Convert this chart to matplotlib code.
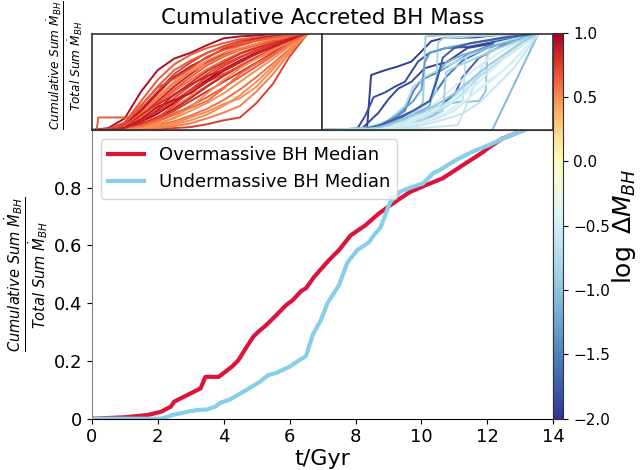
import matplotlib

matplotlib.use("Agg")
import matplotlib.pyplot as plt
import numpy as np
from matplotlib.colors import ListedColormap, Normalize, TwoSlopeNorm

# median curves (bottom panel)
over_med_t = [0, 1.0, 1.7, 2.1, 2.4, 2.5, 2.9, 3.3, 3.45, 3.85,
              4.25, 4.45, 4.7, 4.9, 5.05, 5.3, 5.6, 5.9, 6.1, 6.35,
              6.5, 6.75, 7.2, 7.5, 7.85, 8.3, 8.7, 9.25, 9.65, 10.05,
              10.65, 11.25, 11.85, 12.05, 12.45, 13.1]
over_med_v = [0, 0.005, 0.013, 0.024, 0.042, 0.059, 0.082, 0.105, 0.145, 0.145,
              0.18, 0.203, 0.249, 0.284, 0.301, 0.325, 0.359, 0.394, 0.411, 0.442,
              0.452, 0.492, 0.55, 0.584, 0.635, 0.67, 0.71, 0.755, 0.785, 0.805,
              0.833, 0.878, 0.922, 0.94, 0.97, 1.0]
under_med_t = [0, 2.1, 2.45, 2.9, 3.2, 3.5, 3.75, 3.9, 4.2, 4.7,
               5.1, 5.35, 5.6, 6.0, 6.3, 6.5, 6.7, 6.95, 7.15, 7.5,
               7.75, 8.05, 8.4, 8.6, 8.75, 9.05, 9.35, 9.65, 10.05, 10.35,
               10.55, 11.05, 11.55, 12.05, 12.6, 13.1]
under_med_v = [0, 0, 0.013, 0.024, 0.03, 0.032, 0.042, 0.055, 0.067, 0.1,
               0.128, 0.151, 0.159, 0.18, 0.203, 0.217, 0.29, 0.342, 0.40, 0.463,
               0.54, 0.584, 0.61, 0.642, 0.66, 0.75, 0.786, 0.80, 0.815, 0.85,
               0.861, 0.896, 0.925, 0.948, 0.977, 1.0]

# individual overmassive tracks (top left), sampled on over_t
over_t = [0, 1, 2, 3, 4, 5, 6, 7, 8, 9, 10, 11, 12, 13.1]
over_tracks = [
    [0, 0.02, 0.12, 0.40, 0.62, 0.74, 0.80, 0.88, 0.95, 0.97, 0.98, 0.99, 0.99, 1],
    [0, 0.01, 0.08, 0.30, 0.52, 0.68, 0.78, 0.85, 0.90, 0.94, 0.96, 0.98, 0.99, 1],
    [0, 0.01, 0.06, 0.22, 0.40, 0.58, 0.70, 0.80, 0.87, 0.92, 0.95, 0.97, 0.99, 1],
    [0, 0.00, 0.05, 0.18, 0.35, 0.50, 0.62, 0.72, 0.80, 0.87, 0.92, 0.95, 0.98, 1],
    [0, 0.00, 0.04, 0.15, 0.30, 0.45, 0.58, 0.70, 0.78, 0.84, 0.89, 0.93, 0.97, 1],
    [0, 0.00, 0.03, 0.12, 0.25, 0.40, 0.52, 0.63, 0.72, 0.80, 0.86, 0.91, 0.96, 1],
    [0, 0.00, 0.03, 0.10, 0.20, 0.33, 0.46, 0.58, 0.68, 0.76, 0.83, 0.89, 0.95, 1],
    [0, 0.00, 0.02, 0.08, 0.17, 0.28, 0.40, 0.52, 0.63, 0.72, 0.80, 0.87, 0.94, 1],
    [0, 0.00, 0.02, 0.07, 0.14, 0.24, 0.35, 0.46, 0.57, 0.67, 0.76, 0.85, 0.93, 1],
    [0, 0.00, 0.01, 0.05, 0.11, 0.20, 0.30, 0.40, 0.50, 0.60, 0.70, 0.80, 0.90, 1],
    [0, 0.00, 0.01, 0.04, 0.09, 0.16, 0.25, 0.34, 0.44, 0.55, 0.66, 0.77, 0.89, 1],
    [0, 0.00, 0.01, 0.03, 0.07, 0.12, 0.20, 0.28, 0.38, 0.50, 0.62, 0.74, 0.87, 1],
    [0, 0.00, 0.00, 0.02, 0.05, 0.09, 0.15, 0.22, 0.31, 0.42, 0.55, 0.69, 0.84, 1],
    [0, 0.00, 0.00, 0.01, 0.03, 0.06, 0.10, 0.16, 0.25, 0.36, 0.50, 0.66, 0.82, 1],
    [0, 0.00, 0.00, 0.00, 0.01, 0.02, 0.03, 0.06, 0.10, 0.13, 0.28, 0.48, 0.76, 1],
    [0, 0.00, 0.00, 0.01, 0.02, 0.04, 0.07, 0.12, 0.18, 0.25, 0.40, 0.58, 0.80, 1],
    [0, 0.01, 0.05, 0.20, 0.38, 0.55, 0.66, 0.75, 0.84, 0.90, 0.94, 0.97, 0.99, 1],
    [0, 0.00, 0.03, 0.14, 0.28, 0.42, 0.55, 0.67, 0.76, 0.83, 0.88, 0.92, 0.96, 1],
    [0, 0.00, 0.02, 0.09, 0.19, 0.30, 0.42, 0.55, 0.66, 0.75, 0.82, 0.88, 0.94, 1],
    [0, 0.00, 0.01, 0.06, 0.13, 0.22, 0.33, 0.45, 0.56, 0.66, 0.75, 0.83, 0.92, 1],
    [0, 0.00, 0.04, 0.17, 0.33, 0.48, 0.60, 0.69, 0.77, 0.84, 0.89, 0.94, 0.97, 1],
    [0, 0.00, 0.01, 0.05, 0.12, 0.26, 0.40, 0.50, 0.58, 0.66, 0.74, 0.82, 0.91, 1],
    [0, 0.00, 0.00, 0.02, 0.06, 0.13, 0.24, 0.38, 0.52, 0.64, 0.74, 0.83, 0.92, 1],
    [0, 0.00, 0.03, 0.16, 0.27, 0.36, 0.49, 0.61, 0.70, 0.79, 0.85, 0.90, 0.95, 1],
    [0, 0.00, 0.02, 0.11, 0.24, 0.31, 0.38, 0.50, 0.61, 0.70, 0.79, 0.86, 0.93, 1],
    [0, 0.00, 0.01, 0.04, 0.10, 0.18, 0.23, 0.30, 0.43, 0.58, 0.69, 0.78, 0.90, 1],
    [0, 0.00, 0.00, 0.02, 0.04, 0.07, 0.13, 0.19, 0.27, 0.33, 0.45, 0.63, 0.83, 1],
    [0, 0.01, 0.07, 0.26, 0.44, 0.53, 0.64, 0.76, 0.83, 0.88, 0.93, 0.96, 0.98, 1],
    [0, 0.00, 0.02, 0.08, 0.21, 0.37, 0.47, 0.56, 0.62, 0.71, 0.79, 0.87, 0.94, 1],
]
over_logdm = [0.95, 0.65, 0.75, 0.5, 0.85, 0.6, 0.7, 1.0, 0.55, 0.8, 0.65, 0.5,
              0.6, 0.5, 0.75, 0.55, 0.9, 0.65, 0.75, 0.85, 0.55, 0.7, 0.5,
              0.8, 0.9, 0.6, 0.5, 0.7, 0.85]
# one early-step track
step_t = [0, 0.3, 0.4, 2.3, 3, 4, 5, 6, 7, 8, 9, 10, 11, 12, 13.1]
step_v = [0, 0, 0.13, 0.13, 0.25, 0.45, 0.62, 0.72, 0.80, 0.86, 0.90, 0.93, 0.96, 0.98, 1]
step_logdm = 0.65

# individual undermassive tracks (top right)
under_tracks = [
    ([0, 2.7, 2.95, 3.8, 4.6, 5.4, 5.8, 6.6, 7.4, 9.3, 10.9, 13.1],
     [0, 0.01, 0.57, 0.62, 0.66, 0.71, 0.78, 0.92, 0.955, 0.96, 0.99, 1]),
    ([0, 2.1, 2.6, 3.1, 3.8, 4.4, 5.0, 5.8, 6.5, 7.5, 8.8, 10, 11.5, 13.1],
     [0, 0.01, 0.15, 0.34, 0.39, 0.45, 0.50, 0.71, 0.80, 0.85, 0.86, 0.9, 0.95, 1]),
    ([0, 2.3, 3.4, 4.0, 4.6, 5.4, 6.2, 6.8, 7.5, 8.8, 10.5, 13.1],
     [0, 0.0, 0.18, 0.32, 0.43, 0.50, 0.64, 0.67, 0.70, 0.85, 0.9, 1]),
    ([0, 3, 5, 6.0, 6.8, 7.4, 8.0, 8.5, 9.5, 11, 13.1],
     [0, 0.02, 0.06, 0.1, 0.15, 0.29, 0.36, 0.55, 0.75, 0.88, 1]),
    ([0, 2.5, 4, 5, 5.5, 6, 7, 8, 9, 10.5, 13.1],
     [0, 0.01, 0.08, 0.2, 0.4, 0.52, 0.6, 0.7, 0.8, 0.9, 1]),
    ([0, 3, 4.5, 5.5, 6.5, 7.5, 8.5, 10, 11.5, 13.1],
     [0, 0.02, 0.1, 0.2, 0.3, 0.55, 0.72, 0.85, 0.93, 1]),
    ([0, 3, 4.5, 5.8, 6.1, 6.25, 8, 13.1],
     [0, 0.02, 0.08, 0.2, 0.3, 0.97, 0.99, 1]),
    ([0, 3.5, 5, 6.5, 6.9, 7.0, 7.3, 9, 13.1],
     [0, 0.02, 0.1, 0.3, 0.4, 0.9, 0.95, 0.97, 1]),
    ([0, 4, 6, 7, 8.5, 8.7, 9, 11, 13.1],
     [0, 0.03, 0.15, 0.25, 0.3, 0.75, 0.8, 0.9, 1]),
    ([0, 4, 6, 7, 7.5, 9.5, 9.9, 10, 10.5, 13.1],
     [0, 0.02, 0.1, 0.2, 0.28, 0.3, 0.4, 0.8, 0.88, 1]),
    ([0, 10.3, 13.1],
     [0, 0.0, 1]),
    ([0, 6, 8.2, 8.6, 9.5, 10.5, 13.1],
     [0, 0.02, 0.05, 0.2, 0.6, 0.9, 1]),
    ([0, 3, 5, 6, 7, 8, 9, 10, 11, 12, 13.1],
     [0, 0.01, 0.08, 0.15, 0.3, 0.45, 0.6, 0.72, 0.83, 0.92, 1]),
    ([0, 3.5, 5, 6, 7, 8, 9, 10, 11, 12, 13.1],
     [0, 0.01, 0.05, 0.1, 0.2, 0.35, 0.5, 0.62, 0.75, 0.88, 1]),
    ([0, 2.5, 4, 5, 5.5, 6.2, 7, 8, 9, 10, 11.5, 13.1],
     [0, 0.01, 0.1, 0.25, 0.45, 0.55, 0.62, 0.7, 0.78, 0.85, 0.93, 1]),
    ([0, 3, 4.5, 5.5, 6.5, 7, 7.5, 8.5, 10, 11.5, 13.1],
     [0, 0.02, 0.1, 0.15, 0.25, 0.6, 0.7, 0.78, 0.85, 0.92, 1]),
    ([0, 4, 5.5, 7, 8, 9.5, 10.5, 11.5, 12.3, 13.1],
     [0, 0.01, 0.05, 0.12, 0.2, 0.42, 0.55, 0.7, 0.85, 1]),
    ([0, 2.5, 3.5, 4.5, 5.5, 6, 6.2, 6.5, 7.5, 9, 11, 13.1],
     [0, 0.01, 0.05, 0.15, 0.3, 0.42, 0.7, 0.8, 0.85, 0.9, 0.95, 1]),
    ([0, 3, 5, 6.5, 7.3, 7.5, 8, 9, 10, 11.5, 13.1],
     [0, 0.0, 0.05, 0.12, 0.2, 0.6, 0.65, 0.72, 0.8, 0.9, 1]),
    ([0, 2.5, 3.5, 4.5, 5.5, 6.5, 7, 7.3, 8, 9, 11, 13.1],
     [0, 0.01, 0.05, 0.12, 0.2, 0.3, 0.55, 0.75, 0.85, 0.9, 0.96, 1]),
    ([0, 4, 6, 7.5, 9, 10, 11, 12, 13.1],
     [0, 0.02, 0.08, 0.18, 0.35, 0.5, 0.62, 0.8, 1]),
    ([0, 3, 4.5, 5.5, 6.5, 7.5, 8.5, 9.5, 10.5, 11.5, 13.1],
     [0, 0.01, 0.04, 0.09, 0.16, 0.24, 0.38, 0.55, 0.68, 0.8, 1]),
    ([0, 3.5, 5, 6, 7, 8, 9, 10, 11, 12, 13.1],
     [0, 0.01, 0.06, 0.13, 0.22, 0.3, 0.42, 0.58, 0.74, 0.87, 1]),
    ([0, 2.8, 4, 5, 6, 7, 8, 9, 10, 11, 12, 13.1],
     [0, 0.01, 0.05, 0.12, 0.18, 0.27, 0.38, 0.52, 0.66, 0.78, 0.9, 1]),
    ([0, 4.5, 6, 7.2, 8.5, 9.5, 10.5, 11.5, 12.5, 13.1],
     [0, 0.01, 0.05, 0.1, 0.17, 0.28, 0.45, 0.62, 0.85, 1]),
]
under_logdm = [-1.95, -1.85, -1.9, -1.7, -1.5, -1.6, -0.9, -0.8, -0.7, -1.0, -1.1,
               -0.6, -0.5, -0.65, -0.75, -1.2, -0.55, -1.3, -0.85, -1.75, -0.45,
               -0.7, -0.5, -0.95, -0.6]

legend_labels = ["Overmassive BH Median", "Undermassive BH Median"]
xticks = [0, 2, 4, 6, 8, 10, 12, 14]
yticks = [0, 0.2, 0.4, 0.6, 0.8]
ytick_labels = ["0", "0.2", "0.4", "0.6", "0.8"]
cbar_ticks = [-2.0, -1.5, -1.0, -0.5, 0.0, 0.5, 1.0]

frac_label = (r"$\frac{Cumulative\ Sum\ \dot{M}_{BH}}"
              r"{Total\ Sum\ \dot{M}_{BH}}$")


def main():
    fig = plt.figure(figsize=(6.4, 4.7), dpi=100)

    # colormap: RdYlBu_r centred on zero but shown on a linear bar
    vmin, vmax = -2.0, 1.0
    two = TwoSlopeNorm(vcenter=0.0, vmin=vmin, vmax=vmax)
    cmap = ListedColormap(plt.cm.RdYlBu_r(two(np.linspace(vmin, vmax, 256))))
    norm = Normalize(vmin=vmin, vmax=vmax)

    ax_tl = fig.add_axes([0.1433, 0.7234, 0.3606, 0.2053])
    ax_tr = fig.add_axes([0.5039, 0.7234, 0.3606, 0.2053])
    ax = fig.add_axes([0.1433, 0.1091, 0.7213, 0.6143])
    cax = fig.add_axes([0.8646, 0.1091, 0.0156, 0.8213])

    for vals, c in zip(over_tracks, over_logdm):
        ax_tl.plot(over_t, vals, color=cmap(norm(c)), lw=1.4)
    ax_tl.plot(step_t, step_v, color=cmap(norm(step_logdm)), lw=1.4)
    for (tt, vv), c in zip(under_tracks, under_logdm):
        ax_tr.plot(tt, vv, color=cmap(norm(c)), lw=1.4)

    for a in (ax_tl, ax_tr):
        a.set_xlim(0, 14)
        a.set_ylim(0, 1)
        a.set_xticks([])
        a.set_yticks([])
        for s in a.spines.values():
            s.set_color("#333333")
            s.set_linewidth(1.2)
    ax_tl.set_ylabel(frac_label, fontsize=12.5)
    ax_tl.yaxis.set_label_coords(-0.03, 0.67)
    fig.text(0.5039, 0.962, "Cumulative Accreted BH Mass", ha="center",
             va="center", fontsize=15.5)

    ax.plot(over_med_t, over_med_v, color="crimson", lw=3,
            label=legend_labels[0])
    ax.plot(under_med_t, under_med_v, color="skyblue", lw=3,
            label=legend_labels[1])
    ax.set_xlim(0, 14)
    ax.set_ylim(0, 1)
    ax.set_xticks(xticks)
    ax.set_xticklabels([str(x) for x in xticks])
    ax.set_yticks(yticks)
    ax.set_yticklabels(ytick_labels)
    ax.tick_params(labelsize=13)
    ax.spines["left"].set_color("gray")
    ax.spines["top"].set_color("#333333")
    ax.set_xlabel("t/Gyr", fontsize=16, labelpad=2)
    ax.set_ylabel(frac_label, fontsize=15)
    ax.yaxis.set_label_coords(-0.09, 0.5)
    ax.legend(loc="upper left", fontsize=13, handlelength=2.0,
              borderaxespad=0.5)

    sm = plt.cm.ScalarMappable(cmap=cmap, norm=norm)
    cbar = fig.colorbar(sm, cax=cax, ticks=cbar_ticks)
    cbar.ax.tick_params(labelsize=11)
    cbar.outline.set_edgecolor("#333333")
    cbar.set_label(r"$\log\ \Delta M_{BH}$", fontsize=18, labelpad=0)

    plt.savefig("out.png", dpi=100)
    plt.close()


if __name__ == "__main__":
    main()
